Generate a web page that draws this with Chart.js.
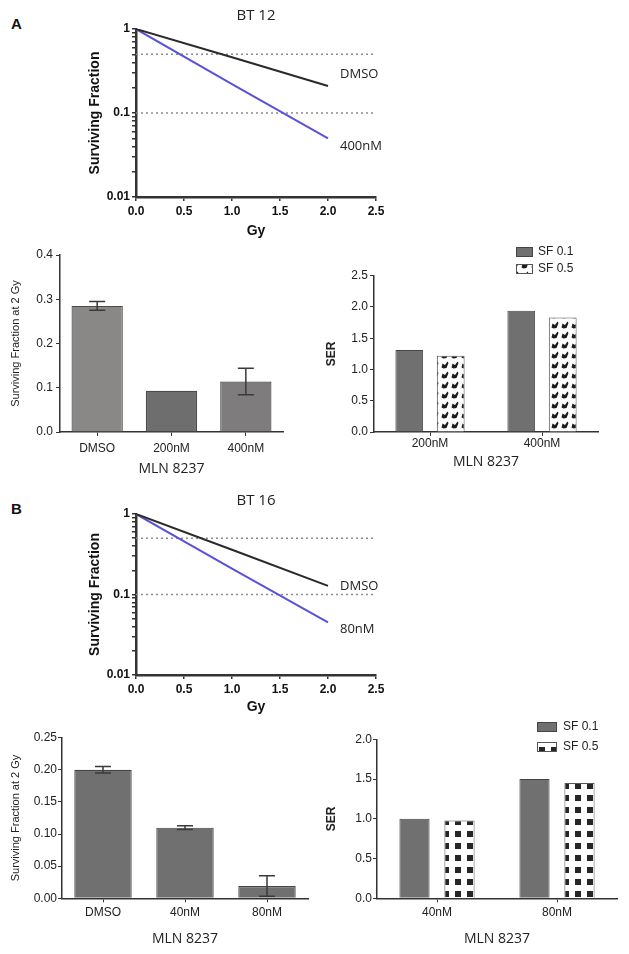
<!DOCTYPE html>
<html><head><meta charset="utf-8">
<script src="https://cdn.jsdelivr.net/npm/chart.js@4.4.1/dist/chart.umd.min.js"></script>
<style>
body{margin:0;background:#fff;width:629px;height:954px;position:relative;overflow:hidden}
canvas{position:absolute}
.pl{position:absolute;font-family:'Liberation Sans',Arial,sans-serif;font-weight:bold;font-size:15px;line-height:18px;color:#111}
</style></head><body>
<div class="pl" style="left:11px;top:15px">A</div>
<div class="pl" style="left:11px;top:500px">B</div>
<canvas id="c1" width="629" height="240" style="left:0;top:0"></canvas>
<canvas id="c2" width="320" height="240" style="left:0;top:240px"></canvas>
<canvas id="c3" width="309" height="240" style="left:320px;top:240px"></canvas>
<canvas id="c4" width="629" height="240" style="left:0;top:480px"></canvas>
<canvas id="c5" width="320" height="234" style="left:0;top:720px"></canvas>
<canvas id="c6" width="309" height="234" style="left:320px;top:720px"></canvas>
<script>
// ---------- data ----------
const doseGy = [0, 1, 2];
const bt12Dmso = [1, 0.46, 0.21];
const bt12Mln400 = [1, 0.22, 0.05];
const bt16Dmso = [1, 0.36, 0.128];
const bt16Mln80 = [1, 0.21, 0.045];
const refLevels = [0.5, 0.1];
const refX = [0, 2.5];

const bt12Groups = ['DMSO', '200nM', '400nM'];
const bt12SF2 = [0.285, 0.093, 0.114];
const bt12SF2Err = [0.01, 0, 0.03];
const bt12SerGroups = ['200nM', '400nM'];
const bt12SerSF01 = [1.31, 1.94];
const bt12SerSF05 = [1.22, 1.83];

const bt16Groups = ['DMSO', '40nM', '80nM'];
const bt16SF2 = [0.20, 0.11, 0.019];
const bt16SF2Err = [0.005, 0.003, 0.016];
const bt16SerGroups = ['40nM', '80nM'];
const bt16SerSF01 = [1.0, 1.5];
const bt16SerSF05 = [0.98, 1.45];

const xTitle = 'MLN 8237';
const sfTitle = 'Surviving Fraction at 2 Gy';

// ---------- helpers ----------
const toXY = (xs, ys) => xs.map((x, i) => ({x: x, y: ys[i]}));
const logTickValues = [];
[0.01, 0.1].forEach(d => { for (let k = 1; k < 10; k++) logTickValues.push(+(d * k).toFixed(3)); });
logTickValues.push(1);

const ARIAL = "'Liberation Sans', Arial, sans-serif";
const OPEN = "'Open Sans', 'Noto Sans', sans-serif";

function patternLeaf() {
  const c = document.createElement('canvas'); c.width = 10; c.height = 10;
  const x = c.getContext('2d');
  x.fillStyle = '#fff'; x.fillRect(0, 0, 10, 10);
  x.fillStyle = '#1c1c1c';
  x.beginPath();
  x.moveTo(1.5, 7.5); x.lineTo(2.5, 3.5); x.lineTo(5, 5); x.lineTo(7.5, 1.5); x.lineTo(8.5, 3); x.lineTo(6.5, 8); x.lineTo(3.5, 8.5);
  x.closePath(); x.fill();
  return x.createPattern(c, 'repeat');
}
function patternSquares() {
  const c = document.createElement('canvas'); c.width = 12; c.height = 12;
  const x = c.getContext('2d');
  x.fillStyle = '#fff'; x.fillRect(0, 0, 12, 12);
  x.fillStyle = '#262626'; x.fillRect(3, 3, 6, 6);
  return x.createPattern(c, 'repeat');
}

const annotations = {};
Chart.register({
  id: 'annot',
  afterDatasetsDraw(chart) {
    const a = annotations[chart.canvas.id];
    if (!a) return;
    const ctx = chart.ctx;
    ctx.save();
    if (a.errors) {
      const meta = chart.getDatasetMeta(0);
      const ys = chart.scales.y;
      const vals = chart.data.datasets[0].data;
      ctx.strokeStyle = '#3a3a3a'; ctx.lineWidth = 1.5;
      a.errors.forEach((er, i) => {
        if (!er) return;
        const bx = meta.data[i].x;
        const yt = ys.getPixelForValue(vals[i] + er);
        const yb = ys.getPixelForValue(Math.max(vals[i] - er, 0));
        ctx.beginPath();
        ctx.moveTo(bx, yt); ctx.lineTo(bx, yb);
        ctx.moveTo(bx - 8, yt); ctx.lineTo(bx + 8, yt);
        ctx.moveTo(bx - 8, yb); ctx.lineTo(bx + 8, yb);
        ctx.stroke();
      });
    }
    if (a.endLabels) {
      ctx.font = '13px ' + OPEN; ctx.fillStyle = '#222';
      ctx.textAlign = 'left'; ctx.textBaseline = 'middle';
      a.endLabels.forEach(l => {
        const pts = chart.getDatasetMeta(l.ds).data;
        const p = pts[pts.length - 1];
        ctx.fillText(chart.data.datasets[l.ds].label, p.x + l.dx, p.y + l.dy);
      });
    }
    if (a.legend) {
      const L = a.legend;
      ctx.font = '12px ' + ARIAL; ctx.textAlign = 'left'; ctx.textBaseline = 'middle';
      chart.data.datasets.forEach((ds, i) => {
        const y = L.y + i * L.gap;
        ctx.fillStyle = ds.backgroundColor; ctx.fillRect(L.x, y, L.bw, L.bh);
        ctx.strokeStyle = ds.borderColor; ctx.lineWidth = 1; ctx.strokeRect(L.x + 0.5, y + 0.5, L.bw - 1, L.bh - 1);
        ctx.fillStyle = '#222'; ctx.fillText(ds.label, L.tx, y + L.bh / 2);
      });
    }
    ctx.restore();
  }
});

function lineChart(id, title, dsData, labelNames, offs, g, gyPad) {
  annotations[id] = {endLabels: [{ds: 0, dx: 12, dy: offs[0]}, {ds: 1, dx: 12, dy: offs[1]}]};
  const datasets = [
    {label: labelNames[0], data: toXY(doseGy, dsData[0]), borderColor: '#2a2a2a', borderWidth: 2, pointRadius: 0, tension: 0},
    {label: labelNames[1], data: toXY(doseGy, dsData[1]), borderColor: '#5a52d5', borderWidth: 2, pointRadius: 0, tension: 0}
  ];
  refLevels.forEach(v => datasets.push({label: 'ref', data: toXY(refX, [v, v]), borderColor: '#8c8c8c', borderDash: [2, 3], borderWidth: 1.5, pointRadius: 0}));
  new Chart(document.getElementById(id), {
    type: 'line',
    data: {datasets},
    options: {
      responsive: false, animation: false,
      layout: {padding: {left: 0, top: g.T - 22.4, right: g.w - g.R, bottom: 0}},
      plugins: {
        legend: {display: false}, tooltip: {enabled: false},
        title: {display: true, text: title, fullSize: false, color: '#222',
          font: {family: OPEN, size: 15, weight: 'normal', lineHeight: 1.2}, padding: {top: 0, bottom: 4.4}}
      },
      scales: {
        x: {type: 'linear', min: 0, max: 2.5,
          ticks: {stepSize: 0.5, callback: v => v.toFixed(1), color: '#111', padding: 3.5, maxRotation: 0,
            font: {family: ARIAL, size: 12, weight: 'bold'}},
          grid: {drawOnChartArea: false, tickLength: 4, color: '#333', lineWidth: 1.5},
          border: {color: '#333', width: 2.5},
          title: {display: true, text: 'Gy', color: '#111', font: {family: ARIAL, size: 14, weight: 'bold', lineHeight: 1.2}, padding: {top: 0, bottom: gyPad}},
          afterFit: s => { s.height = g.h - g.B; }
        },
        y: {type: 'logarithmic', min: 0.01, max: 1,
          afterBuildTicks: s => { s.ticks = logTickValues.map(v => ({value: v})); },
          ticks: {autoSkip: false, color: '#111', padding: 2, font: {family: ARIAL, size: 12, weight: 'bold'},
            callback: v => { const l = Math.log10(v); return Math.abs(l - Math.round(l)) < 1e-6 ? String(+v.toFixed(2)) : ''; }},
          grid: {drawOnChartArea: false, tickLength: 4, color: '#333', lineWidth: 1.5},
          border: {color: '#333', width: 2.5},
          title: {display: true, text: 'Surviving Fraction', color: '#111', font: {family: ARIAL, size: 14, weight: 'bold', lineHeight: 1.2}, padding: {top: 86.6, bottom: 0}},
          afterFit: s => { s.width = g.L; }
        }
      }
    }
  });
}

function barChart(id, cfg) {
  const g = cfg.g;
  annotations[id] = cfg.annot;
  new Chart(document.getElementById(id), {
    type: 'bar',
    data: {labels: cfg.labels, datasets: cfg.datasets},
    options: {
      responsive: false, animation: false,
      layout: {padding: {left: 0, top: g.T, right: g.w - g.R, bottom: 0}},
      plugins: {legend: {display: false}, tooltip: {enabled: false}},
      datasets: {bar: {categoryPercentage: cfg.catPct, barPercentage: cfg.barPct}},
      scales: {
        x: {offset: true,
          ticks: {color: '#222', padding: cfg.xTickPad, maxRotation: 0, font: {family: ARIAL, size: 12}},
          grid: {offset: false, drawOnChartArea: false, tickLength: 4, color: '#333', lineWidth: 1},
          border: {color: '#333', width: 1.5},
          title: {display: true, text: xTitle, color: '#222', font: {family: OPEN, size: 14, lineHeight: 1.2}, padding: {top: 0, bottom: cfg.xTitlePad}},
          afterFit: s => { s.height = g.h - g.B; }
        },
        y: {min: 0, max: cfg.yMax,
          ticks: {stepSize: cfg.yStep, autoSkip: false, color: '#222', padding: cfg.yTickPad, font: {family: ARIAL, size: 12},
            callback: v => v.toFixed(cfg.dec)},
          grid: {drawOnChartArea: false, tickLength: 4, color: '#333', lineWidth: 1},
          border: {color: '#333', width: 1.5},
          title: {display: true, text: cfg.yTitle, color: '#222', font: cfg.yTitleFont, padding: {top: cfg.yTitleTop, bottom: 0}},
          afterFit: s => { s.width = g.L; }
        }
      }
    }
  });
}

// ---------- Panel A ----------
lineChart('c1', 'BT 12', [bt12Dmso, bt12Mln400], ['DMSO', '400nM'], [-12, 8],
  {w: 629, h: 240, L: 136, T: 29, R: 376, B: 197}, 0);

barChart('c2', {
  g: {w: 320, h: 240, L: 60, T: 15, R: 283, B: 192},
  labels: bt12Groups,
  datasets: [{label: 'SF at 2 Gy', data: bt12SF2, backgroundColor: ['#8a8787', '#6e6e6e', '#7e7c7c'], borderColor: '#4a4a4a', borderWidth: 1.2}],
  catPct: 1, barPct: 0.69, yMax: 0.4, yStep: 0.1, dec: 1,
  xTickPad: 5.5, xTitlePad: 2.6, yTickPad: 3,
  yTitle: sfTitle, yTitleFont: {family: ARIAL, size: 11, lineHeight: 1.2}, yTitleTop: 9.4,
  annot: {errors: bt12SF2Err}
});

barChart('c3', {
  g: {w: 309, h: 240, L: 54, T: 35.7, R: 278, B: 192},
  labels: bt12SerGroups,
  datasets: [
    {label: 'SF 0.1', data: bt12SerSF01, backgroundColor: '#707070', borderColor: '#454545', borderWidth: 1},
    {label: 'SF 0.5', data: bt12SerSF05, backgroundColor: patternLeaf(), borderColor: '#555', borderWidth: 1}
  ],
  catPct: 0.74, barPct: 0.67, yMax: 2.5, yStep: 0.5, dec: 1,
  xTickPad: 0.5, xTitlePad: 9.6, yTickPad: 2,
  yTitle: 'SER', yTitleFont: {family: ARIAL, size: 12, weight: 'bold', lineHeight: 1.2}, yTitleTop: 4.8,
  annot: {legend: {x: 196, y: 7, gap: 17, bw: 17, bh: 10, tx: 218}}
});

// ---------- Panel B ----------
lineChart('c4', 'BT 16', [bt16Dmso, bt16Mln80], ['DMSO', '80nM'], [0, 7],
  {w: 629, h: 240, L: 136, T: 34, R: 376, B: 195}, 4.6);

barChart('c5', {
  g: {w: 320, h: 234, L: 62, T: 17.7, R: 308, B: 178.3},
  labels: bt16Groups,
  datasets: [{label: 'SF at 2 Gy', data: bt16SF2, backgroundColor: '#707070', borderColor: '#454545', borderWidth: 1.2}],
  catPct: 1, barPct: 0.7, yMax: 0.25, yStep: 0.05, dec: 2,
  xTickPad: 3, xTitlePad: 6.6, yTickPad: 1,
  yTitle: sfTitle, yTitleFont: {family: ARIAL, size: 11, lineHeight: 1.2}, yTitleTop: 9.4,
  annot: {errors: bt16SF2Err}
});

barChart('c6', {
  g: {w: 309, h: 234, L: 57, T: 19.3, R: 297, B: 178.3},
  labels: bt16SerGroups,
  datasets: [
    {label: 'SF 0.1', data: bt16SerSF01, backgroundColor: '#707070', borderColor: '#454545', borderWidth: 1},
    {label: 'SF 0.5', data: bt16SerSF05, backgroundColor: patternSquares(), borderColor: '#555', borderWidth: 1}
  ],
  catPct: 0.75, barPct: 0.67, yMax: 2.0, yStep: 0.5, dec: 1,
  xTickPad: 3, xTitlePad: 6.6, yTickPad: 1,
  yTitle: 'SER', yTitleFont: {family: ARIAL, size: 12, weight: 'bold', lineHeight: 1.2}, yTitleTop: 4.8,
  annot: {legend: {x: 217, y: 2, gap: 20, bw: 20, bh: 10, tx: 243}}
});
</script>
</body></html>
